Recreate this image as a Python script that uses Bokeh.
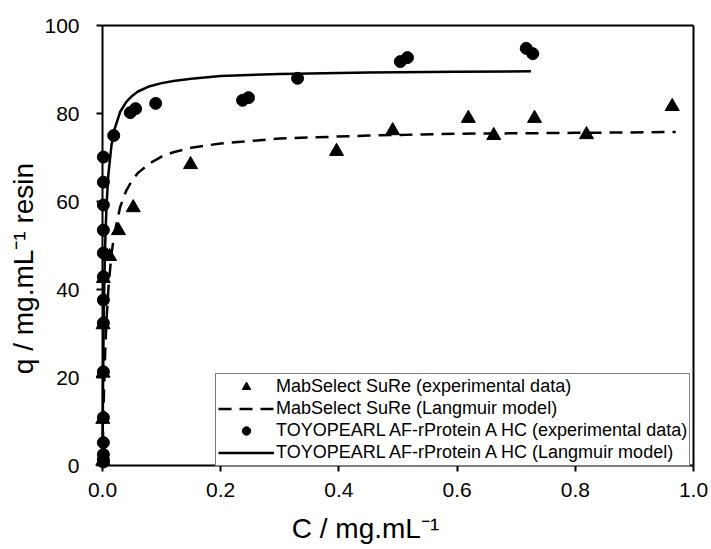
import math
from bokeh.plotting import figure
from bokeh.models import (Range1d, LinearAxis, FixedTicker, NumeralTickFormatter,
                          Legend, LegendItem, Label)
from bokeh.embed import file_html
from bokeh.resources import INLINE

# ---- data ----
ms_c = [0.0005, 0.0005, 0.001, 0.001, 0.0015, 0.012, 0.027, 0.052, 0.149,
        0.396, 0.491, 0.619, 0.662, 0.731, 0.819, 0.964]
ms_q = [1.0, 10.5, 21.0, 32.0, 42.5, 47.5, 53.4, 58.6, 68.4,
        71.4, 76.1, 78.9, 75.0, 78.9, 75.2, 81.6]

tp_c = [0.0015, 0.0015, 0.0015, 0.0015, 0.0015, 0.0015, 0.0015, 0.0015, 0.0015,
        0.0015, 0.0015, 0.0015, 0.0015, 0.0015,
        0.019, 0.047, 0.056, 0.090, 0.237, 0.247, 0.330, 0.504, 0.516, 0.717, 0.728]
tp_q = [0.8, 1.3, 2.5, 5.2, 10.9, 21.3, 32.4, 37.6, 42.9, 48.3, 53.5, 59.2, 64.4, 70.1,
        75.0, 80.2, 81.1, 82.3, 83.0, 83.6, 88.0, 91.8, 92.7, 94.8, 93.6]

ms_model_c = [0, 0.001, 0.002, 0.003, 0.004, 0.005, 0.007, 0.01, 0.015, 0.02, 0.03,
              0.04, 0.05, 0.06, 0.08, 0.1, 0.12, 0.15, 0.2, 0.3, 0.45, 0.6, 0.8, 0.97]
ms_model_q = [0, 7.6, 13.9, 19.1, 23.5, 27.3, 33.4, 40.2, 47.8, 52.7, 58.8,
              62.4, 64.8, 66.5, 68.7, 70.2, 71.2, 72.2, 73.2, 74.3, 75.0, 75.4, 75.6, 75.8]

tp_model_c = [0, 0.001, 0.002, 0.003, 0.004, 0.005, 0.007, 0.01, 0.015, 0.02, 0.03,
              0.04, 0.05, 0.06, 0.08, 0.1, 0.12, 0.15, 0.2, 0.3, 0.45, 0.6, 0.725]
tp_model_q = [0, 19.6, 32.2, 40.9, 47.4, 52.4, 59.5, 66.2, 72.6, 76.3, 80.4,
              82.6, 84.0, 85.0, 86.2, 86.9, 87.4, 87.9, 88.5, 89.0, 89.3, 89.5, 89.6]

x_ticks = [0.0, 0.2, 0.4, 0.6, 0.8, 1.0]
y_ticks = [0, 20, 40, 60, 80, 100]

labels = ["MabSelect SuRe (experimental data)",
          "MabSelect SuRe (Langmuir model)",
          "TOYOPEARL AF-rProtein A HC (experimental data)",
          "TOYOPEARL AF-rProtein A HC (Langmuir model)"]
x_title = "C / mg.mL\u207b\u00b9"
y_title = "q / mg.mL\u207b\u00b9 resin"

FONT = "Liberation Sans"
W, H = 711, 549
# pixel placement of the axes box (x=0 at 102 px, x=1 at 693 px; y=0 at 465 px, y=100 at 25 px)
XL, XR, YB, YT = 102.0, 693.0, 465.0, 25.0
sx = (XR - XL) / 1.0
sy = (YB - YT) / 100.0

p = figure(width=W, height=H, output_backend="svg", toolbar_location=None,
           x_range=Range1d(-XL / sx, 1.0 + (W - XR) / sx),
           y_range=Range1d(-(H - YB) / sy, 100 + YT / sy),
           x_axis_type=None, y_axis_type=None,
           min_border=0, min_border_left=0, min_border_right=0,
           min_border_top=0, min_border_bottom=0)
p.outline_line_color = None
p.background_fill_color = "white"
p.border_fill_color = "white"


def style(ax, labels_on=True):
    ax.axis_line_color = "black"
    ax.axis_line_width = 2
    ax.major_tick_line_color = "black"
    ax.major_tick_line_width = 2
    ax.major_tick_out = 6
    ax.major_tick_in = 0
    ax.minor_tick_line_color = None
    ax.major_label_text_font = FONT
    ax.major_label_text_font_size = "21px"
    ax.major_label_text_color = "black"
    if not labels_on:
        ax.major_tick_line_color = None
        ax.major_label_text_color = None


xaxis = LinearAxis(ticker=FixedTicker(ticks=x_ticks),
                   formatter=NumeralTickFormatter(format="0.0"),
                   fixed_location=0, bounds=(0, 1))
style(xaxis)
xaxis.major_label_standoff = 11
p.add_layout(xaxis, "below")

yaxis = LinearAxis(ticker=FixedTicker(ticks=y_ticks),
                   formatter=NumeralTickFormatter(format="0"),
                   fixed_location=0, bounds=(0, 100))
style(yaxis)
yaxis.major_label_standoff = 17
p.add_layout(yaxis, "left")

top = LinearAxis(ticker=FixedTicker(ticks=[]), bounds=(0, 1), fixed_location=100)
style(top, labels_on=False)
p.add_layout(top, "above")

right = LinearAxis(ticker=FixedTicker(ticks=[]), bounds=(0, 100), fixed_location=1.0)
style(right, labels_on=False)
p.add_layout(right, "right")

# axis titles
p.add_layout(Label(x=365, y=21, x_units="screen", y_units="screen",
                   text=x_title, text_font=FONT, text_font_size="28px",
                   text_align="center", text_baseline="alphabetic",
                   text_color="black"))
p.add_layout(Label(x=23, y=H - 268, x_units="screen", y_units="screen",
                   text=y_title, text_font=FONT, text_font_size="28px",
                   text_align="center", text_baseline="middle",
                   angle=math.pi / 2, text_color="black"))

r_ms_line = p.line(ms_model_c, ms_model_q, line_color="black", line_width=2.5,
                   line_dash="13 8")
r_tp_line = p.line(tp_model_c, tp_model_q, line_color="black", line_width=2.5)
r_ms = p.scatter(ms_c, ms_q, marker="triangle", size=14, fill_color="black",
                 line_color="black")
r_tp = p.scatter(tp_c, tp_q, marker="circle", size=12, fill_color="black",
                 line_color="black")

legend = Legend(items=[LegendItem(label=labels[0], renderers=[r_ms]),
                       LegendItem(label=labels[1], renderers=[r_ms_line]),
                       LegendItem(label=labels[2], renderers=[r_tp]),
                       LegendItem(label=labels[3], renderers=[r_tp_line])],
                location=(215, H - 466), orientation="vertical",
                border_line_color="black", border_line_width=1.5,
                background_fill_color="white", background_fill_alpha=1.0,
                padding=2, spacing=1, margin=0,
                glyph_width=56, glyph_height=21, label_height=21,
                label_standoff=2, label_text_font=FONT,
                label_text_font_size="18px", label_text_color="black")
p.add_layout(legend)

open("out.html", "w").write(file_html(p, INLINE))
